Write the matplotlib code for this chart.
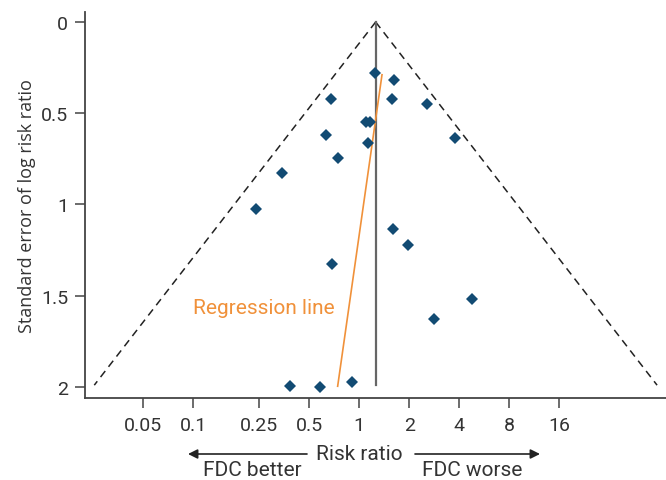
import numpy as np
import matplotlib.pyplot as plt

plt.rcParams['font.family'] = ['Roboto', 'DejaVu Sans']

# study estimates
rr = [1.243, 1.618, 0.673, 1.58, 2.567, 1.097, 1.16, 0.630, 1.124, 3.78, 0.747,
      0.343, 0.239, 1.596, 1.956, 0.688, 4.79, 2.83, 0.382, 0.580, 0.904]
se = [0.279, 0.318, 0.422, 0.422, 0.451, 0.550, 0.550, 0.619, 0.663, 0.637, 0.747,
      0.827, 1.025, 1.134, 1.222, 1.326, 1.518, 1.627, 1.996, 2.0, 1.974]

pooled = 1.255
se_max = 1.99
reg_rr = [1.37, 0.741]
reg_se = [0.289, 1.996]

xticks = [0.05, 0.1, 0.25, 0.5, 1, 2, 4, 8, 16]
xticklabels = ['0.05', '0.1', '0.25', '0.5', '1', '2', '4', '8', '16']
yticks = [0, 0.5, 1, 1.5, 2]
yticklabels = ['0', '0.5', '1', '1.5', '2']

blue = '#124b73'
orange = '#f0913a'
dark = '#333333'

fig = plt.figure(figsize=(6.66, 4.81), dpi=100)
ax = fig.add_axes([85/666, 81.7/481, 581/666, 386.3/481])

# funnel (pseudo 95% limits)
s = np.array([0, se_max])
ax.plot(pooled*np.exp(-1.96*s), s, '--', color='#222222', lw=1.1, dashes=(5, 3.5))
ax.plot(pooled*np.exp(1.96*s), s, '--', color='#222222', lw=1.1, dashes=(5, 3.5))
ax.plot([pooled, pooled], [0, se_max], color='#666666', lw=1.6)

ax.plot(reg_rr, reg_se, color=orange, lw=1.2)
ax.text(0.0994, 1.567, 'Regression line', color=orange, fontsize=15,
        ha='left', va='center')

ax.plot(rr, se, 'D', color=blue, ms=5.8, mew=0, ls='none')

ax.set_xscale('log')
ax.set_xlim(0.02233, 70.2)
ax.set_ylim(2.062, -0.0548)
ax.set_xticks(xticks)
ax.set_xticklabels(xticklabels)
ax.minorticks_off()
ax.set_yticks(yticks)
ax.set_yticklabels(yticklabels)

for sp in ['top', 'right']:
    ax.spines[sp].set_visible(False)
for sp in ['left', 'bottom']:
    ax.spines[sp].set_color('#444444')
    ax.spines[sp].set_linewidth(1.3)
ax.tick_params(direction='out', length=7, width=1.1, color='#444444',
               labelsize=14, labelcolor=dark)
ax.tick_params(axis='x', pad=6)
ax.tick_params(axis='y', pad=5)

ax.set_ylabel('Standard error of log risk ratio', fontsize=13, color=dark,
              family=['Open Sans', 'DejaVu Sans'], labelpad=4)

# x label with direction arrows
def fx(px):
    return px/666

def fy(py):
    return 1 - py/481

fig.text(fx(359), fy(455), 'Risk ratio', fontsize=15, color=dark,
         ha='center', va='center')
ax.annotate('', xy=(fx(188), fy(455)), xytext=(fx(307), fy(455)),
            xycoords='figure fraction', textcoords='figure fraction',
            arrowprops=dict(arrowstyle='-|>', color='#222222', lw=1.2,
                            mutation_scale=14, shrinkA=0, shrinkB=0))
ax.annotate('', xy=(fx(540), fy(455)), xytext=(fx(415), fy(455)),
            xycoords='figure fraction', textcoords='figure fraction',
            arrowprops=dict(arrowstyle='-|>', color='#222222', lw=1.2,
                            mutation_scale=14, shrinkA=0, shrinkB=0))
fig.text(fx(252), fy(476), 'FDC better', fontsize=15, color=dark,
         ha='center', va='baseline')
fig.text(fx(472), fy(476), 'FDC worse', fontsize=15, color=dark,
         ha='center', va='baseline')

plt.savefig('out.png', dpi=100)
